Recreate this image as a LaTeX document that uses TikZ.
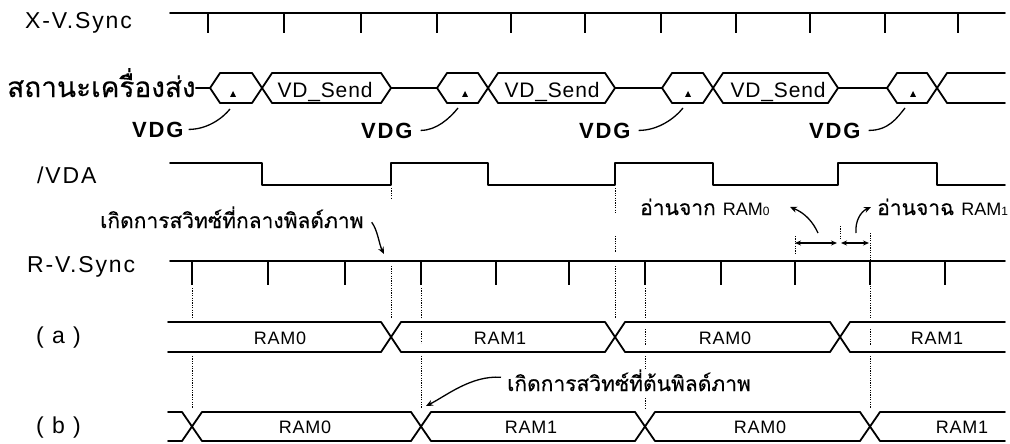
\documentclass[tikz,border=0pt]{standalone}
\usepackage{fontspec}
\setmainfont{Liberation Sans}
\newfontfamily\spaced[LetterSpace=8]{Liberation Sans}
\newfontfamily\lspaced[LetterSpace=4]{Liberation Sans}
\newfontfamily\thai[Script=Thai,FakeBold=0.3]{Loma}
\usetikzlibrary{arrows.meta}
\begin{document}
\begin{tikzpicture}[x=1pt,y=-1pt,
 sig/.style={line width=1.8pt,line join=round,line cap=round},
 tk/.style={line width=1.6pt},
 guide/.style={line width=1pt,dash pattern=on 1.2pt off 1.2pt},
 note/.style={line width=1.3pt},
 tip/.style={-{Stealth[length=7pt,width=6pt]}},
 dtip/.style={{Stealth[length=6pt,width=5pt]}-{Stealth[length=6pt,width=5pt]}},
 lbl/.style={anchor=base west,inner sep=0pt,font=\spaced\fontsize{23}{26}\selectfont},
 th/.style={anchor=base west,inner sep=0pt,font=\thai\fontsize{21}{24}\selectfont},
 ram/.style={anchor=base,inner sep=0pt,font=\lspaced\fontsize{18}{20}\selectfont},
 vds/.style={anchor=base,inner sep=0pt,font=\lspaced\fontsize{21}{24}\selectfont},
 vdg/.style={anchor=base west,inner sep=0pt,font=\spaced\bfseries\fontsize{22}{24}\selectfont},
]
\useasboundingbox[fill=white] (0,0) rectangle (1010,444);

% ---------- X-V.Sync
\node[lbl] (xl) at (25,29) {X-V.Sync};
\draw[sig] (170,13) -- (1005,13);
\foreach \x in {208,284,361,437,511,585,661,736,810,885,958} \draw[tk] (\x,13) -- (\x,33);

% ---------- transmitter state bus
\node[th,font=\thai\fontsize{28}{30}\selectfont] (sl) at (7,97) {สถานะเครื่องส่ง};
\draw[sig] (sl.east |- 210,88) -- (210,88);
\foreach \L/\X/\R/\N in {210/262/391/437, 437/488/615/662, 662/713/838/887} {
  \draw[sig] (\L,88) -- (\L+10,73) -- (\X-10,73) -- (\X+10,103) -- (\R-10,103) -- (\R,88)
             -- (\R-10,73) -- (\X+10,73) -- (\X-10,103) -- (\L+10,103) -- cycle;
  \draw[sig] (\R,88) -- (\N,88);
}
\draw[sig] (887,88) -- (897,73) -- (927,73) -- (947,103) -- (1005,103);
\draw[sig] (887,88) -- (897,103) -- (927,103) -- (947,73) -- (1005,73);
\foreach \x in {233,465,688,913} \fill (\x-3,97) -- (\x+3,97) -- (\x,91) -- cycle;
\node[vds] (vd1) at (325,97) {VD\_Send};
\node[vds] (vd2) at (552,97) {VD\_Send};
\node[vds] (vd3) at (778,97) {VD\_Send};

% VDG labels
\node[vdg] (g1) at (132,137) {VDG};
\node[vdg] (g2) at (361,138) {VDG};
\node[vdg] (g3) at (579,138) {VDG};
\node[vdg] (g4) at (809,138) {VDG};
\coordinate (h1) at (230,109);
\coordinate (h2) at (458,108);
\coordinate (h3) at (683,108);
\coordinate (h4) at (905,108);
\draw[note] ([xshift=5pt]g1.east) .. controls +(18,0) and +(-8,10) .. (h1);
\draw[note] ([xshift=8pt]g2.east) .. controls +(16,0) and +(-8,10) .. (h2);
\draw[note] ([xshift=8pt]g3.east) .. controls +(20,0) and +(-8,10) .. (h3);
\draw[note] ([xshift=8pt]g4.east) .. controls +(20,0) and +(-8,10) .. (h4);

% ---------- /VDA
\node[lbl] (vl) at (37,183) {/VDA};
\draw[sig] (170,163) -- (262,163) -- (262,185) -- (391,185) -- (391,163) -- (488,163)
  -- (488,185) -- (615,185) -- (615,163) -- (713,163) -- (713,185) -- (838,185)
  -- (838,163) -- (937,163) -- (937,185) -- (1005,185);

% ---------- notes
\node[th] (t1) at (100,228) {เกิดการสวิทซ์ที่กลางพิลด์ภาพ};
\coordinate (t1e) at (384,254);
\draw[note,tip] ([xshift=8pt,yshift=-5pt]t1.east) .. controls +(6,8) and +(-5,-10) .. (t1e);

\node[th] (r0) at (640,215) {อ่านจาก {\rmfamily\fontsize{18}{18}\selectfont RAM\fontsize{12}{12}\selectfont 0}};
\node[th] (r1) at (877,215) {อ่านจาฉ {\rmfamily\fontsize{18}{18}\selectfont RAM\fontsize{12}{12}\selectfont 1}};
\coordinate (r0s) at (818,233);
\coordinate (r0e) at (790,207);
\coordinate (r1s) at (856,233);
\coordinate (r1e) at (871,207);
\draw[note,tip] (r0s) .. controls (813,222) and (805,213) .. (r0e);
\draw[note,tip] (r1s) .. controls (855,222) and (860,212) .. (r1e);
\coordinate (d1) at (795,243);
\coordinate (d2) at (837,243);
\coordinate (d3) at (841,243);
\coordinate (d4) at (869,243);
\draw[line width=1.2pt,dtip] (d1) -- (d2);
\draw[line width=1.2pt,dtip] (d3) -- (d4);

% ---------- R-V.Sync
\node[lbl] (rl) at (27,272) {R-V.Sync};
\draw[sig] (170,261) -- (1005,261);
\foreach \x in {192,268,345,421,496,569,645,721,795,870,945} \draw[tk] (\x,261) -- (\x,285);

% ---------- guides
\foreach \x/\a/\b in {192/288/318, 192/356/408, 391/188/198, 391/266/318,
  421/288/318, 421/331/343, 421/356/408, 615/188/213, 615/236/252, 615/266/318,
  645/288/318, 645/329/345, 645/356/370, 645/398/408, 870/233/318, 870/329/345, 870/356/408,
  795/236/253, 840/226/240}
  \draw[guide] (\x,\a) -- (\x,\b);

% ---------- (a)
\node[lbl] (al) at (36,343) {( a )};
\draw[sig] (168,322) -- (381,322) -- (401,352) -- (605,352) -- (625,322) -- (830,322) -- (850,352) -- (1005,352);
\draw[sig] (168,352) -- (381,352) -- (401,322) -- (605,322) -- (625,352) -- (830,352) -- (850,322) -- (1005,322);
\node[ram] (a1) at (280,344) {RAM0};
\node[ram] (a2) at (500,344) {RAM1};
\node[ram] (a3) at (725,344) {RAM0};
\node[ram] (a4) at (937,344) {RAM1};

% ---------- (b)
\node[lbl] (bl) at (36,433) {( b )};
\draw[sig] (168,412) -- (182,412) -- (202,441) -- (411,441) -- (431,412) -- (635,412) -- (655,441) -- (860,441) -- (880,412) -- (1005,412);
\draw[sig] (168,441) -- (182,441) -- (202,412) -- (411,412) -- (431,441) -- (635,441) -- (655,412) -- (860,412) -- (880,441) -- (1005,441);
\node[ram] (b1) at (305,433) {RAM0};
\node[ram] (b2) at (531,433) {RAM1};
\node[ram] (b3) at (760,433) {RAM0};
\node[ram] (b4) at (962,433) {RAM1};

\node[th] (t2) at (507,391) {เกิดการสวิทซ์ที่ต้นพิลด์ภาพ};
\coordinate (t2e) at (426,406);
\draw[note,tip] ([xshift=-6pt,yshift=3pt]t2.west) .. controls +(-30,-2) and +(20,-10) .. (t2e);
\end{tikzpicture}
\end{document}
